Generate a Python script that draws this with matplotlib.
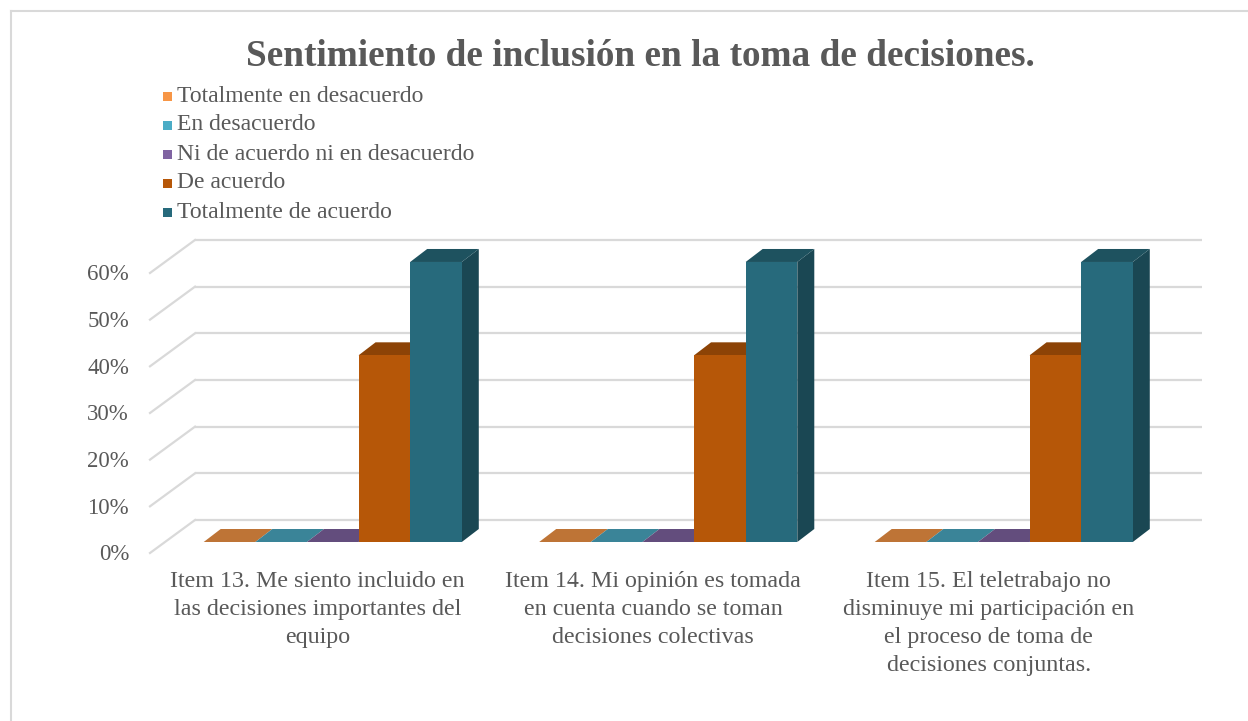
import matplotlib
matplotlib.use("Agg")
import matplotlib.pyplot as plt
from matplotlib.patches import Polygon, Rectangle
from matplotlib.lines import Line2D
from matplotlib.transforms import Affine2D, IdentityTransform
import matplotlib.colors as mcolors
import numpy as np

# data
categories = [
    "Item 13. Me siento incluido en\nlas decisiones importantes del\nequipo",
    "Item 14. Mi opinión es tomada\nen cuenta cuando se toman\ndecisiones colectivas",
    "Item 15. El teletrabajo no\ndisminuye mi participación en\nel proceso de toma de\ndecisiones conjuntas.",
]
series_names = ["Totalmente en desacuerdo", "En desacuerdo",
                "Ni de acuerdo ni en desacuerdo", "De acuerdo",
                "Totalmente de acuerdo"]
totalmente_desacuerdo = [0, 0, 0]
en_desacuerdo = [0, 0, 0]
ni_ni = [0, 0, 0]
de_acuerdo = [40, 40, 40]
totalmente_acuerdo = [60, 60, 60]
series_values = [totalmente_desacuerdo, en_desacuerdo, ni_ni, de_acuerdo, totalmente_acuerdo]
yticks = [0, 10, 20, 30, 40, 50, 60]
ytick_labels = ["0%", "10%", "20%", "30%", "40%", "50%", "60%"]

colors = ["#F79646", "#4BACC6", "#8064A2", "#B65708", "#276A7C"]
text_col = "#595959"
grid_col = "#D9D9D9"

plt.rcParams['font.family'] = ['Liberation Serif', 'DejaVu Serif']

W, H = 1248, 721
fig = plt.figure(figsize=(W / 100, H / 100), dpi=100)

# front plane of the bars (pixel layout)
ax_left, ax_bottom, ax_w, ax_h = 165, 179, 1006.5, 70 * 4.667
ax = fig.add_axes([ax_left / W, ax_bottom / H, ax_w / W, ax_h / H])
ax.set_xlim(0, 3)
ax.set_ylim(0, 70)
ax.axis("off")

back = (30, 22)     # back wall offset (display px)
front = (-15, -11)  # floor front offset
depth = (17, 13)    # bar depth

def shift(dx, dy):
    return ax.transData + Affine2D().translate(dx, dy)

# back wall gridlines
ax.hlines(yticks, 0, 3, colors=grid_col, linewidth=1.6, transform=shift(*back), zorder=1,
          clip_on=False)
# side wall diagonals
for v in yticks:
    p = ax.transData.transform((0, v))
    fig.add_artist(Line2D([p[0] + back[0], p[0] + front[0]], [p[1] + back[1], p[1] + front[1]],
                          transform=IdentityTransform(), color=grid_col, linewidth=1.6, zorder=1))
# y tick labels
for v, lab in zip(yticks, ytick_labels):
    ax.text(0, v, lab, transform=shift(front[0] - 21, front[1] - 2), ha="right", va="center",
            fontsize=16.5, color=text_col)

# bars
n = len(series_values)
w = 1 / (n + 1.5)
def shade(c, f):
    r, g, b = mcolors.to_rgb(c)
    return (r * f, g * f, b * f)

for i in range(len(categories)):
    for j, vals in enumerate(series_values):
        v = vals[i]
        x0 = i + 0.75 * w + j * w
        x1 = x0 + w
        p00 = ax.transData.transform((x0, 0))
        p10 = ax.transData.transform((x1, 0))
        p0v = ax.transData.transform((x0, v))
        p1v = ax.transData.transform((x1, v))
        d = np.array(depth)
        side = Polygon([p10, p1v, p1v + d, p10 + d], closed=True, transform=IdentityTransform(),
                       facecolor=shade(colors[j], 0.67), linewidth=0, zorder=2 + j)
        top = Polygon([p0v, p1v, p1v + d, p0v + d], closed=True, transform=IdentityTransform(),
                      facecolor=shade(colors[j], 0.77), linewidth=0, zorder=2 + j)
        fig.add_artist(side)
        fig.add_artist(top)
        if v > 0:
            fig.add_artist(Rectangle(p00, p10[0] - p00[0], p0v[1] - p00[1], transform=IdentityTransform(),
                                     facecolor=colors[j], linewidth=0, zorder=2 + j))

# category labels
for i, lab in enumerate(categories):
    ax.text(i + 0.5, 0, lab, transform=shift(front[0], front[1] - 18), ha="center", va="top",
            fontsize=17.3, color=text_col, linespacing=1.43, multialignment="center")

# title
fig.text(640 / W, 1 - 57 / H, "Sentimiento de inclusión en la toma de decisiones.",
         ha="center", va="center", fontsize=26.8, fontweight="bold", color=text_col)

# legend
for j, name in enumerate(series_names):
    yc = 96 + j * 29
    fig.add_artist(Rectangle((163 / W, 1 - (yc + 4.5) / H), 9 / W, 9 / H, transform=fig.transFigure,
                             facecolor=colors[j], linewidth=0))
    fig.text(177 / W, 1 - yc / H, name, ha="left", va="center", fontsize=17, color=text_col)

# chart border
fig.add_artist(Line2D([11 / W, 1.01], [1 - 11 / H, 1 - 11 / H], transform=fig.transFigure,
                      color=grid_col, linewidth=1.5))
fig.add_artist(Line2D([11 / W, 11 / W], [-0.01, 1 - 11 / H], transform=fig.transFigure,
                      color=grid_col, linewidth=1.5))

fig.savefig("out.png", dpi=100)
